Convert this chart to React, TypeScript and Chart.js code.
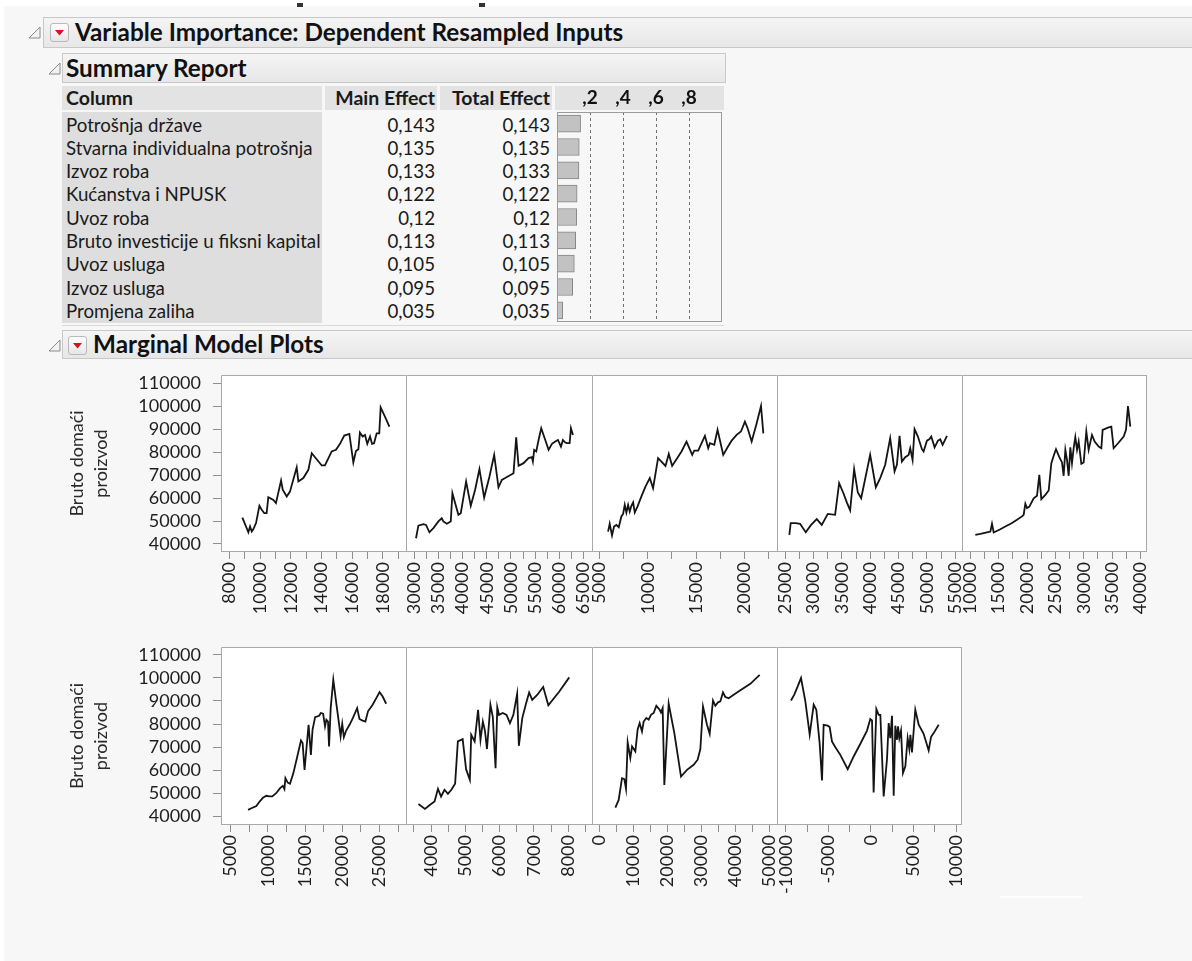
import React, { useEffect, useRef } from "react";
import { Chart, registerables } from "chart.js";
Chart.register(...registerables);

const FONT = "Lato, 'Open Sans', sans-serif";

// ---------- Summary report data ----------
const importanceColumns = [
  "Potrošnja države",
  "Stvarna individualna potrošnja",
  "Izvoz roba",
  "Kućanstva i NPUSK",
  "Uvoz roba",
  "Bruto investicije u fiksni kapital",
  "Uvoz usluga",
  "Izvoz usluga",
  "Promjena zaliha",
];
const mainEffect = [0.143, 0.135, 0.133, 0.122, 0.12, 0.113, 0.105, 0.095, 0.035];
const totalEffect = [0.143, 0.135, 0.133, 0.122, 0.12, 0.113, 0.105, 0.095, 0.035];
const barTickValues = [0.2, 0.4, 0.6, 0.8];
const barTickLabels = [",2", ",4", ",6", ",8"];

// ---------- Marginal model plots data ----------
const gdpTitle = ["Bruto domaći", "proizvod"];
const gdpTicks = [40000, 50000, 60000, 70000, 80000, 90000, 100000, 110000];

const potrosnjaDrzaveX = [8850, 9240, 9350, 9460, 9560, 9740, 9960, 10110, 10280, 10430, 10540, 10870, 11040, 11370, 11480, 11740, 11950, 12390, 12500, 12820, 13150, 13370, 13690, 14020, 14230, 14670, 14950, 15210, 15490, 15820, 16080, 16250, 16410, 16510, 16690, 16840, 16990, 17170, 17300, 17430, 17600, 17770, 17860, 18140, 18430];
const potrosnjaDrzaveY = [51500, 45100, 47600, 45400, 46400, 49100, 56600, 54900, 53400, 53400, 60400, 59200, 57800, 67600, 63600, 60700, 62800, 73400, 67200, 68700, 72300, 79500, 76900, 74200, 74200, 80300, 81000, 83600, 87200, 87900, 75500, 80500, 81300, 88500, 86800, 87500, 83600, 86800, 83600, 83900, 88200, 88200, 99500, 95500, 91100];
const potrosnjaDrzaveTicks = [8000, 10000, 12000, 14000, 16000, 18000];

const individualnaX = [30410, 30900, 31930, 32480, 33170, 34000, 35030, 35720, 36060, 36750, 37580, 37920, 38480, 39160, 39650, 40750, 41710, 42610, 43500, 44470, 45570, 46540, 47430, 48120, 48810, 50530, 51080, 51570, 52600, 53630, 54320, 54530, 54800, 55220, 55700, 56250, 57080, 57770, 58460, 59150, 59700, 60320, 60730, 61210, 61560, 62110, 62380, 62800];
const individualnaY = [42500, 48000, 48600, 48300, 45100, 46900, 49800, 51200, 49800, 48800, 49800, 62100, 57800, 52700, 53400, 67200, 56600, 63600, 72600, 60200, 69400, 78800, 64700, 67900, 68700, 70800, 86500, 74000, 75200, 77400, 77800, 75900, 81000, 80300, 85300, 90400, 85300, 81000, 83600, 84600, 85300, 82400, 85300, 84200, 83900, 83900, 90400, 87500];
const individualnaTicks = [30000, 35000, 40000, 45000, 50000, 55000, 60000, 65000];

const izvozRobaX = [5870, 6040, 6280, 6490, 6730, 6980, 7250, 7430, 7600, 7770, 7950, 8120, 8290, 8470, 8640, 8920, 9330, 9750, 10200, 10540, 11060, 11410, 11830, 12170, 12520, 12970, 13490, 14010, 14600, 14810, 15220, 15920, 16260, 16440, 16890, 17230, 17470, 17820, 18270, 18690, 19210, 19660, 20070, 20350, 20770, 21290, 21740, 21980];
const izvozRobaY = [45400, 48800, 43700, 47600, 48300, 47300, 52000, 53100, 57000, 53700, 57000, 54100, 56600, 58100, 53700, 56300, 60700, 65000, 68700, 64300, 77400, 75900, 74000, 79200, 74000, 76900, 80300, 84600, 78800, 80700, 80700, 87100, 81700, 83900, 83200, 89700, 85300, 78800, 82100, 85000, 87500, 89000, 93300, 90400, 84600, 92600, 100100, 88200];
const izvozRobaTicks = [5000, 10000, 15000, 20000];

const kucanstvaX = [25760, 26000, 26880, 27650, 28650, 29590, 30590, 31470, 32530, 33820, 34530, 35290, 35880, 36470, 37170, 37820, 38410, 39990, 40990, 41760, 42640, 43520, 44290, 44700, 45170, 45580, 46170, 46760, 47050, 47460, 47810, 48400, 49110, 49400, 49990, 50400, 50750, 51340, 51930, 52340, 52750, 53520];
const kucanstvaY = [44000, 49100, 49100, 48800, 45100, 48300, 50800, 48300, 53100, 52700, 66500, 62100, 58100, 54600, 72600, 62400, 59900, 78800, 64700, 68700, 74500, 86100, 71600, 74500, 87100, 75900, 77800, 78800, 81700, 76600, 90000, 86800, 81300, 80300, 85000, 85600, 86800, 82100, 85000, 85600, 83200, 87100];
const kucanstvaTicks = [25000, 30000, 35000, 40000, 45000, 50000, 55000];

const uvozRobaX = [10880, 11760, 12940, 13530, 13820, 14120, 15290, 16170, 17350, 18230, 19110, 19410, 19700, 20000, 20410, 21170, 21760, 22170, 22520, 23230, 23820, 24290, 24700, 25110, 25700, 26170, 26460, 26760, 27050, 27350, 27640, 27930, 28230, 28520, 28820, 29110, 29580, 29990, 30460, 30870, 31460, 31930, 32640, 33110, 33340, 34280, 34870, 35280, 36170, 37050, 37460, 37810, 38220];
const uvozRobaY = [44000, 44400, 45100, 45400, 48800, 45000, 46400, 47600, 49100, 50500, 52000, 52700, 57500, 55600, 56300, 59900, 61000, 70100, 59500, 61400, 63300, 75200, 78400, 81300, 77800, 75500, 69700, 81000, 76600, 69700, 82100, 75200, 81700, 86500, 81000, 84600, 74900, 75500, 89000, 81000, 87500, 84600, 82400, 81700, 89700, 90700, 91100, 81700, 84200, 86800, 89700, 100100, 91100];
const uvozRobaTicks = [10000, 15000, 20000, 25000, 30000, 35000, 40000];

const investicijeX = [7350, 7790, 8460, 8900, 9350, 9790, 10230, 10590, 11120, 11650, 12010, 12230, 12360, 12670, 12980, 13430, 13870, 14450, 14670, 14930, 15470, 15780, 16000, 16350, 16890, 17110, 17420, 17680, 17860, 18080, 18220, 18440, 18790, 19190, 19550, 19770, 19990, 20210, 20520, 20970, 21410, 21990, 22300, 22650, 23100, 23450, 24070, 24560, 25000, 25400, 25890];
const investicijeY = [42900, 43600, 44600, 46500, 48200, 49000, 48700, 48700, 50100, 52300, 53300, 51900, 56600, 54700, 54200, 58800, 64800, 72900, 71800, 60200, 79700, 66700, 77500, 83000, 83600, 84800, 84500, 79000, 81900, 81100, 70300, 86900, 99200, 89100, 80400, 74700, 80100, 74400, 77200, 79700, 82600, 86900, 82200, 81600, 81100, 85500, 88400, 91200, 93800, 92000, 88800];
const investicijeTicks = [5000, 10000, 15000, 20000, 25000];

const uvozUslugaX = [3630, 3820, 3970, 4100, 4200, 4290, 4390, 4490, 4590, 4700, 4780, 4920, 5020, 5130, 5170, 5270, 5370, 5440, 5510, 5570, 5630, 5730, 5800, 5880, 5930, 5980, 6090, 6200, 6300, 6400, 6510, 6560, 6660, 6760, 6860, 6950, 7100, 7270, 7420, 7740, 8030];
const uvozUslugaY = [45400, 43300, 45100, 46500, 52000, 48700, 51600, 49800, 51600, 54200, 72500, 73500, 60500, 55900, 75400, 72500, 86200, 73200, 81100, 77200, 69200, 88400, 83000, 60900, 87300, 84000, 84800, 84000, 80400, 84000, 93100, 70600, 82600, 88400, 93700, 90500, 92700, 96000, 88100, 94100, 100200];
const uvozUslugaTicks = [4000, 5000, 6000, 7000, 8000];

const izvozUslugaX = [4620, 5600, 6580, 7270, 7760, 8250, 9030, 9530, 10510, 11200, 11780, 12470, 12960, 13750, 14440, 15120, 15910, 16690, 17680, 18070, 18560, 19050, 20330, 22000, 23960, 25730, 27690, 28870, 29660, 30440, 31620, 32410, 33390, 34080, 34860, 35550, 36330, 37020, 38000, 39480, 41440, 44390, 47140];
const izvozUslugaY = [43900, 47200, 56600, 56200, 52000, 72100, 65300, 70300, 68200, 77800, 80400, 76800, 81100, 82600, 81900, 84000, 84800, 87900, 86200, 85000, 86900, 53700, 88800, 76100, 57300, 60200, 62400, 64600, 69200, 87600, 79700, 75800, 90200, 87900, 89400, 89800, 93700, 91700, 91200, 92700, 94600, 97400, 101300];
const izvozUslugaTicks = [0, 10000, 20000, 30000, 40000, 50000];

const zaliheX = [-9410, -9020, -8620, -8230, -7720, -7210, -6740, -6430, -6040, -5760, -5570, -5100, -4860, -4590, -4190, -3610, -2740, -2040, -1250, -470, -80, 120, 310, 630, 900, 1100, 1490, 1880, 2080, 2270, 2470, 2670, 2860, 3060, 3180, 3330, 3530, 3760, 4040, 4310, 4510, 4630, 4820, 5210, 5610, 6190, 6780, 7060, 7370, 7960];
const zaliheY = [90200, 92700, 96300, 99900, 89800, 75400, 88400, 86200, 71800, 55600, 79700, 79300, 78700, 72500, 70000, 66700, 60500, 66000, 71500, 77200, 82200, 81600, 50400, 86500, 84000, 84000, 48700, 64800, 80400, 73900, 83600, 49000, 79300, 73200, 79000, 73900, 77200, 58800, 61700, 73900, 69200, 75400, 67700, 86200, 79700, 75800, 68600, 74400, 76100, 79700];
const zaliheTicks = [-10000, -5000, 0, 5000, 10000];

type Panel = { x: number[]; y: number[]; ticks: number[]; min: number; max: number };

const topPanels: Panel[] = [
  { x: potrosnjaDrzaveX, y: potrosnjaDrzaveY, ticks: potrosnjaDrzaveTicks, min: 7457, max: 19512 },
  { x: individualnaX, y: individualnaY, ticks: individualnaTicks, min: 28346, max: 66724 },
  { x: izvozRobaX, y: izvozRobaY, ticks: izvozRobaTicks, min: 4203, max: 23399 },
  { x: kucanstvaX, y: kucanstvaY, ticks: kucanstvaTicks, min: 23589, max: 56164 },
  { x: uvozRobaX, y: uvozRobaY, ticks: uvozRobaTicks, min: 8530, max: 41164 },
];
const bottomPanels: Panel[] = [
  { x: investicijeX, y: investicijeY, ticks: investicijeTicks, min: 3714, max: 28550 },
  { x: uvozUslugaX, y: uvozUslugaY, ticks: uvozUslugaTicks, min: 3267, max: 8694 },
  { x: izvozUslugaX, y: izvozUslugaY, ticks: izvozUslugaTicks, min: -2259, max: 52245 },
  { x: zaliheX, y: zaliheY, ticks: zaliheTicks, min: -11054, max: 10702 },
];

const rows = [
  { top: 375, bottom: 552, yMin: 36500, yMax: 113600, panels: topPanels },
  { top: 647, bottom: 825, yMin: 36360, yMax: 113330, panels: bottomPanels },
];

// layout constants
const EDGES = [221, 406, 592, 777, 962, 1147];
const PAD = 14;
const TOPPAD = 16;
const XAXIS_H = 75;
const YAXIS_LEFT = 65;
const TICK_SIZE = 18;

const framePlugin = {
  id: "frame",
  beforeDraw(chart: any) {
    const a = chart.chartArea;
    const ctx = chart.ctx;
    ctx.save();
    ctx.fillStyle = "#ffffff";
    ctx.fillRect(a.left, a.top, a.right - a.left, a.bottom - a.top);
    ctx.restore();
  },
  afterDraw(chart: any) {
    const a = chart.chartArea;
    const ctx = chart.ctx;
    const last = chart.options.plugins.frame?.last;
    ctx.save();
    ctx.strokeStyle = "#a9a9a9";
    ctx.lineWidth = 1;
    ctx.beginPath();
    ctx.moveTo(a.left + 0.5, a.bottom - 0.5);
    ctx.lineTo(a.left + 0.5, a.top + 0.5);
    ctx.lineTo(a.right, a.top + 0.5);
    ctx.moveTo(a.left, a.bottom - 0.5);
    ctx.lineTo(a.right, a.bottom - 0.5);
    if (last) {
      ctx.moveTo(a.right - 0.5, a.top);
      ctx.lineTo(a.right - 0.5, a.bottom);
    }
    ctx.stroke();
    ctx.restore();
  },
};

const boxPlugin = {
  id: "box",
  afterDraw(chart: any) {
    const a = chart.chartArea;
    const ctx = chart.ctx;
    ctx.save();
    ctx.strokeStyle = "#9a9a9a";
    ctx.lineWidth = 1;
    ctx.strokeRect(a.left + 0.5, a.top + 0.5, a.right - a.left - 1, a.bottom - a.top - 1);
    ctx.restore();
  },
};

function makePanel(canvas: HTMLCanvasElement, p: Panel, row: any, first: boolean, last: boolean) {
  const majors = p.ticks;
  const step = (majors[1] - majors[0]) / 2;
  const all: number[] = [];
  for (let v = Math.ceil(p.min / step) * step; v <= p.max; v += step) all.push(v);
  return new Chart(canvas, {
    type: "scatter",
    data: {
      datasets: [
        {
          data: p.x.map((x, i) => ({ x, y: p.y[i] })),
          showLine: true,
          borderColor: "#141414",
          borderWidth: 1.8,
          pointRadius: 0,
          pointHoverRadius: 0,
          fill: false,
          tension: 0,
        },
      ],
    },
    options: {
      animation: false,
      responsive: false,
      events: [],
      layout: { padding: { left: first ? 0 : PAD, right: PAD, top: TOPPAD, bottom: 0 } },
      plugins: {
        legend: { display: false },
        tooltip: { enabled: false },
        frame: { last },
      } as any,
      scales: {
        x: {
          type: "linear",
          min: p.min,
          max: p.max,
          position: "bottom",
          afterBuildTicks: (s: any) => {
            s.ticks = all.map((v) => ({ value: v }));
          },
          afterFit: (s: any) => {
            s.height = XAXIS_H;
            s.paddingLeft = 0;
            s.paddingRight = 0;
          },
          grid: { drawOnChartArea: false, drawTicks: true, tickLength: 7, tickColor: "#8e8e8e", color: "#8e8e8e" },
          border: { display: false },
          ticks: {
            autoSkip: false,
            minRotation: 90,
            maxRotation: 90,
            padding: 3,
            color: "#1e1e1e",
            font: { family: FONT, size: TICK_SIZE },
            callback: (v: any) => (majors.includes(v) ? String(v) : ""),
          },
        },
        y: {
          type: "linear",
          min: row.yMin,
          max: row.yMax,
          display: first,
          afterBuildTicks: (s: any) => {
            s.ticks = gdpTicks.map((v) => ({ value: v }));
          },
          afterFit: (s: any) => {
            if (first) s.width = EDGES[0] - YAXIS_LEFT;
            s.paddingTop = 0;
            s.paddingBottom = 0;
          },
          title: {
            display: true,
            text: gdpTitle,
            color: "#2a2a2a",
            font: { family: FONT, size: 18, lineHeight: 1.33 },
            padding: { top: 0, bottom: 0 },
          },
          grid: { drawOnChartArea: false, tickLength: 8, tickColor: "#8e8e8e", color: "#8e8e8e" },
          border: { display: false },
          ticks: {
            padding: 12,
            color: "#1e1e1e",
            font: { family: FONT, size: TICK_SIZE },
            callback: (v: any) => String(v),
          },
        },
      },
    } as any,
    plugins: [framePlugin as any],
  });
}

function Tri({ left, top }: { left: number; top: number }) {
  return (
    <svg style={{ position: "absolute", left, top }} width={13} height={13}>
      <polygon points="1,12 12,12 12,1" fill="#f2f2f2" stroke="#8a8a8a" strokeWidth={1} />
    </svg>
  );
}

function RedBtn({ left, top }: { left: number; top: number }) {
  return (
    <div
      style={{
        position: "absolute",
        left,
        top,
        width: 17,
        height: 17,
        border: "1px solid #b9b9b9",
        borderRadius: 3,
        background: "linear-gradient(#ffffff, #e6e6e6)",
      }}
    >
      <svg style={{ position: "absolute", left: 0, top: 0 }} width={17} height={17}>
        <polygon points="4,6 13,6 8.5,11.5" fill="#dc1020" />
      </svg>
    </div>
  );
}

const barStyle = (left: number, top: number, width: number, height: number): React.CSSProperties => ({
  position: "absolute",
  left,
  top,
  width,
  height,
  boxSizing: "border-box",
  border: "1px solid #c8c8c8",
  background: "linear-gradient(#f5f5f5, #e7e7e7)",
});

const titleText = (left: number, centerY: number): React.CSSProperties => ({
  position: "absolute",
  left,
  top: centerY - 15,
  height: 30,
  lineHeight: "30px",
  fontFamily: FONT,
  fontWeight: 700,
  fontSize: 24.3,
  color: "#111",
  whiteSpace: "nowrap",
});

export default function App() {
  const barRef = useRef<HTMLCanvasElement | null>(null);
  const panelRefs = useRef<(HTMLCanvasElement | null)[]>([]);

  useEffect(() => {
    const charts: Chart[] = [];
    if (barRef.current) {
      charts.push(
        new Chart(barRef.current, {
          type: "bar",
          data: {
            labels: importanceColumns,
            datasets: [
              {
                data: totalEffect,
                backgroundColor: "#c2c2c2",
                borderColor: "#858585",
                borderWidth: 1,
                barThickness: 17,
                borderSkipped: false,
              },
            ],
          },
          options: {
            indexAxis: "y",
            animation: false,
            responsive: false,
            events: [],
            layout: { padding: { left: 2, right: 2, top: 0, bottom: 2 } },
            plugins: { legend: { display: false }, tooltip: { enabled: false } },
            scales: {
              x: {
                type: "linear",
                position: "top",
                min: 0,
                max: 1,
                afterBuildTicks: (s: any) => {
                  s.ticks = barTickValues.map((v) => ({ value: v }));
                },
                afterFit: (s: any) => {
                  s.height = 26;
                  s.paddingLeft = 0;
                  s.paddingRight = 0;
                },
                grid: { drawTicks: false, color: "#6f6f6f", lineWidth: 1 },
                border: { display: false, dash: [3, 3] },
                ticks: {
                  autoSkip: false,
                  maxRotation: 0,
                  padding: 3,
                  color: "#111",
                  font: { family: FONT, size: 19, weight: "bold" },
                  callback: (_v: any, i: number) => barTickLabels[i],
                },
              },
              y: { display: false },
            },
          } as any,
          plugins: [boxPlugin as any],
        })
      );
    }
    let k = 0;
    rows.forEach((row) => {
      row.panels.forEach((p, i) => {
        const c = panelRefs.current[k++];
        if (c) charts.push(makePanel(c, p, row, i === 0, i === row.panels.length - 1));
      });
    });
    return () => charts.forEach((c) => c.destroy());
  }, []);

  let idx = 0;
  const canvases: React.ReactNode[] = [];
  rows.forEach((row) => {
    row.panels.forEach((_p, i) => {
      const first = i === 0;
      const left = first ? YAXIS_LEFT : EDGES[i] - PAD;
      const width = EDGES[i + 1] - EDGES[i] + PAD + (first ? EDGES[0] - YAXIS_LEFT : PAD);
      const height = TOPPAD + (row.bottom - row.top) + XAXIS_H;
      const myIdx = idx++;
      canvases.push(
        <canvas
          key={myIdx}
          ref={(el) => {
            panelRefs.current[myIdx] = el;
          }}
          width={width}
          height={height}
          style={{ position: "absolute", left, top: row.top - TOPPAD, width, height }}
        />
      );
    });
  });

  const rowCenter = (i: number) => 124.5 + 23.3 * i;
  const cellText: React.CSSProperties = {
    position: "absolute",
    height: 22,
    lineHeight: "22px",
    fontFamily: FONT,
    fontSize: 18.7,
    color: "#1a1a1a",
    whiteSpace: "nowrap",
  };
  const headText: React.CSSProperties = { ...cellText, fontWeight: 700, fontSize: 19.5 };

  return (
    <div
      style={{
        position: "absolute",
        left: 0,
        top: 0,
        width: 1192,
        height: 961,
        overflow: "hidden",
        background: "#f7f7f7",
        fontFamily: FONT,
      }}
    >
      <div style={{ position: "absolute", left: 0, top: 0, width: 1192, height: 6, background: "#ffffff" }} />
      <div style={{ position: "absolute", left: 0, top: 0, width: 4, height: 961, background: "#ffffff" }} />
      <div style={{ position: "absolute", left: 297, top: 3, width: 6, height: 4, background: "#333" }} />
      <div style={{ position: "absolute", left: 479, top: 3, width: 6, height: 4, background: "#333" }} />

      {/* Variable importance header */}
      <Tri left={28} top={26} />
      <div style={barStyle(43, 17, 1160, 31)} />
      <RedBtn left={50} top={23} />
      <div style={titleText(75, 32)}>Variable Importance: Dependent Resampled Inputs</div>

      {/* Summary report header */}
      <Tri left={48} top={62} />
      <div style={barStyle(62, 53, 664, 30)} />
      <div style={titleText(66, 68)}>Summary Report</div>

      {/* Table header */}
      <div style={{ position: "absolute", left: 62, top: 86, width: 260, height: 24, background: "#e3e3e3" }} />
      <div style={{ position: "absolute", left: 325, top: 86, width: 112, height: 24, background: "#e3e3e3" }} />
      <div style={{ position: "absolute", left: 440, top: 86, width: 112, height: 24, background: "#e3e3e3" }} />
      <div style={{ position: "absolute", left: 555, top: 86, width: 169, height: 24, background: "#e3e3e3" }} />
      <div style={{ ...headText, left: 66, top: 87 }}>Column</div>
      <div style={{ ...headText, left: 325, width: 110, top: 87, textAlign: "right" }}>Main Effect</div>
      <div style={{ ...headText, left: 440, width: 110, top: 87, textAlign: "right" }}>Total Effect</div>

      {/* Table body */}
      <div style={{ position: "absolute", left: 62, top: 112, width: 260, height: 211, background: "#dedede" }} />
      {importanceColumns.map((name, i) => (
        <React.Fragment key={name}>
          <div style={{ ...cellText, left: 66, top: rowCenter(i) - 11 }}>{name}</div>
          <div style={{ ...cellText, left: 325, width: 110, top: rowCenter(i) - 11, textAlign: "right" }}>
            {String(mainEffect[i]).replace(".", ",")}
          </div>
          <div style={{ ...cellText, left: 440, width: 110, top: rowCenter(i) - 11, textAlign: "right" }}>
            {String(totalEffect[i]).replace(".", ",")}
          </div>
        </React.Fragment>
      ))}
      <div style={{ position: "absolute", left: 62, top: 325, width: 662, height: 1, background: "#dadada" }} />
      <canvas
        ref={barRef}
        width={169}
        height={238}
        style={{ position: "absolute", left: 555, top: 86, width: 169, height: 238 }}
      />

      {/* Marginal model plots header */}
      <Tri left={48} top={339} />
      <div style={barStyle(62, 330, 1140, 29)} />
      <RedBtn left={68} top={336} />
      <div style={titleText(93, 344)}>Marginal Model Plots</div>

      {canvases}

      <div style={{ position: "absolute", left: 1000, top: 896, width: 82, height: 2, background: "#ffffff" }} />
    </div>
  );
}
